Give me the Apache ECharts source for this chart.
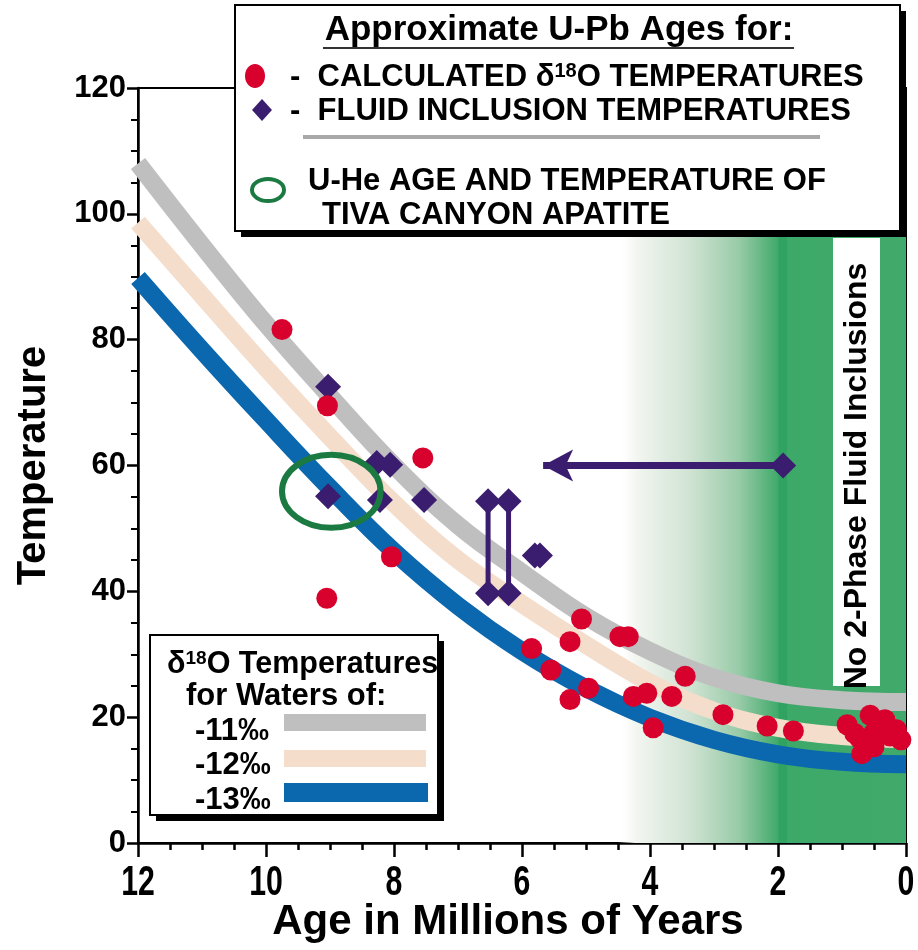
<!DOCTYPE html>
<html>
<head>
<meta charset="utf-8">
<script src="https://cdn.jsdelivr.net/npm/echarts@6/dist/echarts.min.js"></script>
<style>
  html, body { margin: 0; padding: 0; background: #fff; }
  #main { width: 918px; height: 950px; }
</style>
</head>
<body>
<div id="main"></div>
<script>
// curve ages and the three d18O water temperature bands
var bandAges = [12, 11, 10, 9, 8, 7, 6, 5, 4, 3, 2, 1, 0];
var band11 = [108, 95, 82.5, 71, 60, 50.5, 43, 36, 30.5, 26.3, 23.8, 22.7, 22.4];
var band12 = [98.6, 87, 75.5, 64.5, 54, 45, 38, 31.5, 25.5, 21, 18.3, 17, 16.5];
var band13 = [89.8, 78.3, 67.2, 56.4, 46.3, 37.7, 30.5, 24.6, 19.9, 16.4, 14.1, 12.9, 12.5];

// calculated d18O temperatures [age, temp]
var d18oPoints = [
  [9.75, 81.6], [9.04, 69.5], [9.05, 38.9], [8.04, 45.5], [7.55, 61.2],
  [5.85, 30.9], [5.55, 27.5], [5.25, 22.8], [5.25, 32], [5.07, 35.6],
  [4.96, 24.6], [4.47, 32.8], [4.34, 32.8], [4.26, 23.3], [4.05, 23.8],
  [3.95, 18.3], [3.66, 23.3], [3.45, 26.5], [2.86, 20.4], [2.17, 18.6],
  [1.76, 17.8], [0.92, 18.8], [0.56, 20.3], [0.33, 19.6], [0.15, 18],
  [0.08, 16.4], [0.72, 16.6], [0.69, 14.2], [0.51, 17.4], [0.5, 15.3],
  [0.8, 17.4], [0.4, 18.5], [0.25, 17]
];

// fluid inclusion temperatures [age, temp]
var fluidPoints = [
  [9.03, 72.5], [9.03, 55.1], [8.27, 60.4], [8.06, 60.1], [8.22, 54.5],
  [7.53, 54.5], [5.8, 45.7], [5.72, 45.7], [1.92, 60]
];
// fluid inclusion ranges
var rangeA = [[6.53, 39.7], [6.53, 54.3]];
var rangeB = [[6.21, 39.7], [6.21, 54.3]];
// arrow
var arrowFrom = [1.92, 60];
var arrowTo = [5.67, 60];

// U-He apatite: centre age, centre temp, half width (Ma), half height (deg)
var apatite = [[8.98, 55.9, 0.77, 5.8]];

var xTicks = [0, 2, 4, 6, 8, 10, 12];
var yTicks = [0, 20, 40, 60, 80, 100, 120];

var PURPLE = '#3b1d6f';
var RED = '#d8002c';
var FONT = '"Liberation Sans", Arial, sans-serif';

function zipBand(vals) {
  return bandAges.map(function (a, i) { return [a, vals[i]]; });
}

var chart = echarts.init(document.getElementById('main'));

var option = {
  animation: false,
  backgroundColor: '#fff',
  grid: {
    left: 138, right: 12, top: 88, bottom: 107,
    show: true, borderColor: '#000', borderWidth: 2
  },
  xAxis: {
    type: 'value', min: 0, max: 12, interval: 2, inverse: true,
    name: 'Age in Millions of Years', nameLocation: 'middle', nameGap: 58,
    nameTextStyle: { fontSize: 42, fontWeight: 'bold', color: '#000', fontFamily: FONT, padding: [0, 28, 0, 0] },
    axisLine: { show: true, onZero: false, lineStyle: { color: '#000', width: 2.5 } },
    axisTick: { show: true, length: 14, lineStyle: { color: '#000', width: 2.5 } },
    minorTick: { show: true, splitNumber: 4, length: 7, lineStyle: { color: '#000', width: 2.5 } },
    splitLine: { show: false },
    axisLabel: { show: false }
  },
  yAxis: {
    type: 'value', min: 0, max: 120, interval: 20,
    name: 'Temperature', nameLocation: 'middle', nameGap: 84,
    nameTextStyle: { fontSize: 40, fontWeight: 'bold', color: '#000', fontFamily: FONT },
    axisLine: { show: true, onZero: false, lineStyle: { color: '#000', width: 2.5 } },
    axisTick: { show: true, length: 11, lineStyle: { color: '#000', width: 2.5 } },
    minorTick: { show: true, splitNumber: 4, length: 7, lineStyle: { color: '#000', width: 2 } },
    splitLine: { show: false },
    axisLabel: {
      margin: 12, color: '#000', fontSize: 31, fontWeight: 'bold', fontFamily: FONT,
      formatter: function (v) { return yTicks.indexOf(v) >= 0 ? String(v) : ''; }
    }
  },
  series: [
    {
      // green zone, no 2-phase fluid inclusions
      type: 'line', data: [], silent: true,
      markArea: {
        silent: true,
        data: [
          [{ xAxis: 4.5, yAxis: 0, itemStyle: {
              color: new echarts.graphic.LinearGradient(0, 0, 1, 0, [
                { offset: 0, color: 'rgba(255,255,255,0)' },
                { offset: 0.06, color: '#f3f6f1' },
                { offset: 0.25, color: '#d0e3d3' },
                { offset: 0.42, color: '#98cba8' },
                { offset: 0.56, color: '#3da968' },
                { offset: 1, color: '#40a96b' }
              ]) } },
           { xAxis: 0, yAxis: 120 }],
          [{ xAxis: 1.99, yAxis: 0, itemStyle: { color: '#30a262' } }, { xAxis: 1.86, yAxis: 120 }]
        ]
      }
    },
    { name: '-11‰', type: 'line', smooth: 0.4, symbol: 'none', data: zipBand(band11),
      lineStyle: { color: '#bfbfbf', width: 18 }, z: 3 },
    { name: '-12‰', type: 'line', smooth: 0.4, symbol: 'none', data: zipBand(band12),
      lineStyle: { color: '#f5ddcc', width: 18 }, z: 3 },
    { name: '-13‰', type: 'line', smooth: 0.4, symbol: 'none', data: zipBand(band13),
      lineStyle: { color: '#0b67ae', width: 18 }, z: 3 },
    { type: 'line', data: rangeA, symbol: 'diamond', symbolSize: 26,
      lineStyle: { color: PURPLE, width: 5 }, itemStyle: { color: PURPLE, opacity: 1 }, z: 5 },
    { type: 'line', data: rangeB, symbol: 'diamond', symbolSize: 26,
      lineStyle: { color: PURPLE, width: 5 }, itemStyle: { color: PURPLE, opacity: 1 }, z: 5 },
    {
      type: 'scatter', data: fluidPoints, symbol: 'diamond', symbolSize: 26,
      itemStyle: { color: PURPLE, opacity: 1 }, z: 6,
      markLine: {
        silent: true, symbol: ['none', 'arrow'], symbolSize: [24, 30],
        label: { show: false },
        lineStyle: { color: PURPLE, width: 7, type: 'solid', opacity: 1 },
        data: [[{ coord: arrowFrom }, { coord: arrowTo }]]
      }
    },
    { type: 'scatter', data: d18oPoints, symbol: 'circle', symbolSize: 21,
      itemStyle: { color: RED, opacity: 1 }, z: 6 },
    {
      type: 'custom', data: apatite, z: 7,
      renderItem: function (params, api) {
        var c = api.coord([api.value(0), api.value(1)]);
        var s = api.size([api.value(2), api.value(3)]);
        return {
          type: 'ellipse',
          shape: { cx: c[0], cy: c[1], rx: s[0], ry: s[1] },
          style: { fill: 'none', stroke: '#1b7a41', lineWidth: 6 }
        };
      }
    }
  ]
};

chart.setOption(option);

function label(x, y, text, size, extra) {
  var el = { type: 'text', z: 62, x: x, y: y,
    style: { text: text, font: 'bold ' + size + 'px ' + FONT, fill: '#000',
      textAlign: 'left', textVerticalAlign: 'middle' } };
  if (extra) {
    for (var k in extra) el.style[k] = extra[k];
  }
  return el;
}

var sup = function (size) {
  return { s: { fontSize: size, fontWeight: 'bold', fontFamily: FONT, verticalAlign: 'top', fill: '#000' } };
};

var graphics = [
  // vertical label strip
  { type: 'rect', z: 50, shape: { x: 833, y: 238, width: 47, height: 448 }, style: { fill: '#fff' } },
  { type: 'text', z: 51, x: 857, y: 476, rotation: Math.PI / 2,
    style: { text: 'No 2-Phase Fluid Inclusions', font: 'bold 32px ' + FONT, fill: '#000',
      textAlign: 'center', textVerticalAlign: 'middle' } },

  // top legend box
  { type: 'rect', z: 60, shape: { x: 241, y: 11, width: 665, height: 226 }, style: { fill: '#000' } },
  { type: 'rect', z: 61, shape: { x: 235, y: 5, width: 665, height: 226 },
    style: { fill: '#fff', stroke: '#000', lineWidth: 2 } },
  label(559, 30, 'Approximate U-Pb Ages for:', 35, { textAlign: 'center' }),
  { type: 'line', z: 62, shape: { x1: 323, y1: 48, x2: 794, y2: 48 }, style: { stroke: '#333', lineWidth: 2 } },
  { type: 'ellipse', z: 62, shape: { cx: 255, cy: 76, rx: 10, ry: 12 }, style: { fill: RED } },
  label(290, 77, '-  CALCULATED δ{s|18}O TEMPERATURES', 31, { rich: sup(20) }),
  { type: 'polygon', z: 62, shape: { points: [[262, 99], [272, 110], [262, 121], [252, 110]] }, style: { fill: PURPLE } },
  label(290, 111, '-  FLUID INCLUSION TEMPERATURES', 31),
  { type: 'line', z: 62, shape: { x1: 303, y1: 137, x2: 820, y2: 137 }, style: { stroke: '#a8a8a8', lineWidth: 4 } },
  { type: 'ellipse', z: 62, shape: { cx: 268, cy: 190, rx: 16, ry: 11 }, style: { fill: 'none', stroke: '#1b7a41', lineWidth: 4 } },
  label(308, 181, 'U-He AGE AND TEMPERATURE OF', 31),
  label(322, 215, 'TIVA CANYON APATITE', 31),

  // lower-left band legend
  { type: 'rect', z: 60, shape: { x: 156, y: 641, width: 288, height: 180 }, style: { fill: '#000' } },
  { type: 'rect', z: 61, shape: { x: 150, y: 635, width: 288, height: 180 },
    style: { fill: '#fff', stroke: '#000', lineWidth: 2 } },
  label(167, 665, 'δ{s|18}O Temperatures', 30.5, { rich: sup(19) }),
  label(186, 696, 'for Waters of:', 31),
  label(195, 731, '-11‰', 31),
  { type: 'rect', z: 62, shape: { x: 284, y: 714, width: 142, height: 17 }, style: { fill: '#bfbfbf' } },
  label(195, 765, '-12‰', 31),
  { type: 'rect', z: 62, shape: { x: 284, y: 750, width: 142, height: 17 }, style: { fill: '#f5ddcc' } },
  label(195, 800, '-13‰', 31),
  { type: 'rect', z: 62, shape: { x: 284, y: 783, width: 144, height: 19 }, style: { fill: '#0b67ae' } }
];

// x tick labels, narrow bold digits placed on the axis scale
xTicks.forEach(function (v) {
  var px = chart.convertToPixel({ xAxisIndex: 0 }, v);
  graphics.push({ type: 'text', z: 62, x: px, y: 862, scaleX: 0.72,
    style: { text: String(v), font: 'bold 42px ' + FONT, fill: '#000',
      textAlign: 'center', textVerticalAlign: 'top' } });
});

chart.setOption({ graphic: graphics });
</script>
</body>
</html>
